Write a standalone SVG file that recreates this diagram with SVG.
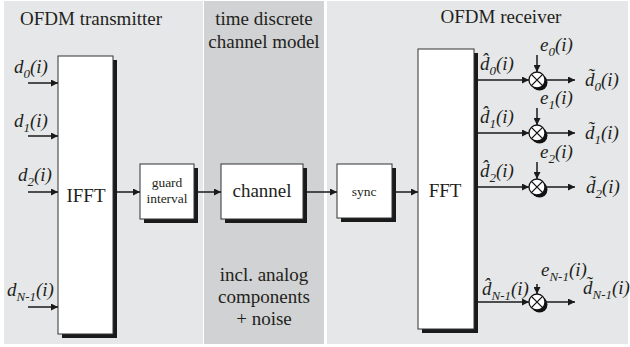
<svg xmlns="http://www.w3.org/2000/svg" width="630" height="347" viewBox="0 0 630 347">
  <defs>
    <marker id="arr" viewBox="0 0 10 10" refX="10" refY="5" markerWidth="9" markerHeight="7" markerUnits="userSpaceOnUse" orient="auto">
      <path d="M0,0 L10,5 L0,10 z" fill="#1a1a1a"/>
    </marker>
    <g id="mult">
      <circle cx="2.5" cy="2.5" r="8" fill="#111"/>
      <circle cx="0" cy="0" r="8" fill="#fff" stroke="#111" stroke-width="1.3"/>
      <path d="M-5.6,-5.6 L5.6,5.6 M-5.6,5.6 L5.6,-5.6" stroke="#111" stroke-width="1.3"/>
    </g>
  </defs>
  <style>
    .lt { fill: #e6e7e8; }
    .dk { fill: #d1d2d3; }
    .box { fill: #fff; stroke: #333; stroke-width: 1; }
    .sh { fill: #1a1a1a; }
    .ln { stroke: #1a1a1a; stroke-width: 1.5; fill: none; marker-end: url(#arr); }
    text { font-family: "Liberation Serif", "Times New Roman", serif; fill: #231f20; }
    .h { font-size: 19px; }
    .b { font-size: 19px; }
    .s { font-size: 13.5px; }
    .v { font-size: 19px; font-style: italic; }
    .sub { font-size: 13px; }
  </style>

  <!-- background sections -->
  <g id="sections">
    <rect class="lt" x="4" y="1" width="199" height="343"/>
    <rect class="dk" x="204" y="1" width="120" height="343"/>
    <rect class="lt" x="327" y="1" width="301" height="343"/>
  </g>

  <!-- section titles -->
  <g id="titles">
    <text class="h" x="91" y="25" text-anchor="middle">OFDM transmitter</text>
    <text class="h" x="264" y="25" text-anchor="middle">time discrete</text>
    <text class="h" x="264" y="48" text-anchor="middle">channel model</text>
    <text class="h" x="501" y="23" text-anchor="middle">OFDM receiver</text>
    <text class="h" x="264" y="281" text-anchor="middle">incl. analog</text>
    <text class="h" x="264" y="303" text-anchor="middle">components</text>
    <text class="h" x="264" y="325" text-anchor="middle">+ noise</text>
  </g>

  <!-- blocks -->
  <g id="ifft">
    <rect class="sh" x="62" y="60" width="55" height="278"/>
    <rect class="box" x="58" y="56" width="55" height="278"/>
    <text class="b" x="86" y="202" text-anchor="middle">IFFT</text>
  </g>
  <g id="guard">
    <rect class="sh" x="144" y="168" width="54" height="55"/>
    <rect class="box" x="140" y="164" width="54" height="55"/>
    <text class="s" x="167" y="187" text-anchor="middle">guard</text>
    <text class="s" x="167" y="203" text-anchor="middle">interval</text>
  </g>
  <g id="channel">
    <rect class="sh" x="225" y="168" width="82" height="55"/>
    <rect class="box" x="221" y="164" width="82" height="55"/>
    <text class="b" x="262" y="197" text-anchor="middle">channel</text>
  </g>
  <g id="sync">
    <rect class="sh" x="341" y="168" width="55" height="54"/>
    <rect class="box" x="337" y="164" width="55" height="54"/>
    <text class="s" x="364" y="196" text-anchor="middle">sync</text>
  </g>
  <g id="fft">
    <rect class="sh" x="422" y="53" width="56" height="280"/>
    <rect class="box" x="418" y="49" width="56" height="280"/>
    <text class="b" x="445" y="197" text-anchor="middle">FFT</text>
  </g>

  <!-- multipliers -->
  <g id="mul0"><use href="#mult" x="537" y="80"/></g>
  <g id="mul1"><use href="#mult" x="537" y="133"/></g>
  <g id="mul2"><use href="#mult" x="537" y="187"/></g>
  <g id="mulN"><use href="#mult" x="537" y="302"/></g>

  <!-- connectors -->
  <g id="connectors">
    <line class="ln" x1="28" y1="83" x2="58" y2="83"/>
    <line class="ln" x1="28" y1="136" x2="58" y2="136"/>
    <line class="ln" x1="28" y1="192" x2="58" y2="192"/>
    <line class="ln" x1="28" y1="307" x2="58" y2="307"/>
    <line class="ln" x1="117" y1="192" x2="140" y2="192"/>
    <line class="ln" x1="198" y1="192" x2="221" y2="192"/>
    <line class="ln" x1="307" y1="192" x2="337" y2="192"/>
    <line class="ln" x1="396" y1="192" x2="418" y2="192"/>

    <line class="ln" x1="478" y1="80" x2="529" y2="80"/>
    <line class="ln" x1="478" y1="133" x2="529" y2="133"/>
    <line class="ln" x1="478" y1="187" x2="529" y2="187"/>
    <line class="ln" x1="478" y1="302" x2="529" y2="302"/>

    <line class="ln" x1="545" y1="80" x2="575" y2="80"/>
    <line class="ln" x1="545" y1="133" x2="575" y2="133"/>
    <line class="ln" x1="545" y1="187" x2="575" y2="187"/>
    <line class="ln" x1="545" y1="302" x2="575" y2="302"/>

    <line class="ln" x1="537" y1="55" x2="537" y2="72"/>
    <line class="ln" x1="537" y1="108" x2="537" y2="125"/>
    <line class="ln" x1="537" y1="162" x2="537" y2="179"/>
    <line class="ln" x1="537" y1="284" x2="537" y2="294"/>
  </g>

  <!-- input symbols -->
  <g id="inputs">
    <text class="v" x="14" y="73">d<tspan class="sub" dy="5">0</tspan><tspan dy="-5">(i)</tspan></text>
    <text class="v" x="14" y="127">d<tspan class="sub" dy="5">1</tspan><tspan dy="-5">(i)</tspan></text>
    <text class="v" x="18" y="181">d<tspan class="sub" dy="5">2</tspan><tspan dy="-5">(i)</tspan></text>
    <text class="v" x="7" y="296">d<tspan class="sub" dy="5">N-1</tspan><tspan dy="-5">(i)</tspan></text>
  </g>

  <!-- FFT outputs (estimates) -->
  <g id="estimates">
    <text class="v" x="480" y="70">d&#x302;<tspan class="sub" dy="5">0</tspan><tspan dy="-5">(i)</tspan></text>
    <text class="v" x="480" y="123">d&#x302;<tspan class="sub" dy="5">1</tspan><tspan dy="-5">(i)</tspan></text>
    <text class="v" x="480" y="177">d&#x302;<tspan class="sub" dy="5">2</tspan><tspan dy="-5">(i)</tspan></text>
    <text class="v" x="482" y="295">d&#x302;<tspan class="sub" dy="5">N-1</tspan><tspan dy="-5">(i)</tspan></text>
  </g>

  <!-- correction factors -->
  <g id="factors">
    <text class="v" x="540" y="51">e<tspan class="sub" dy="5">0</tspan><tspan dy="-5">(i)</tspan></text>
    <text class="v" x="540" y="104">e<tspan class="sub" dy="5">1</tspan><tspan dy="-5">(i)</tspan></text>
    <text class="v" x="540" y="158">e<tspan class="sub" dy="5">2</tspan><tspan dy="-5">(i)</tspan></text>
    <text class="v" x="541" y="276">e<tspan class="sub" dy="5">N-1</tspan><tspan dy="-5">(i)</tspan></text>
  </g>

  <!-- corrected outputs -->
  <g id="outputs">
    <text class="v" x="585" y="86">d&#x303;<tspan class="sub" dy="5">0</tspan><tspan dy="-5">(i)</tspan></text>
    <text class="v" x="585" y="139">d&#x303;<tspan class="sub" dy="5">1</tspan><tspan dy="-5">(i)</tspan></text>
    <text class="v" x="586" y="193">d&#x303;<tspan class="sub" dy="5">2</tspan><tspan dy="-5">(i)</tspan></text>
    <text class="v" x="583" y="294">d&#x303;<tspan class="sub" dy="5">N-1</tspan><tspan dy="-5">(i)</tspan></text>
  </g>
</svg>
